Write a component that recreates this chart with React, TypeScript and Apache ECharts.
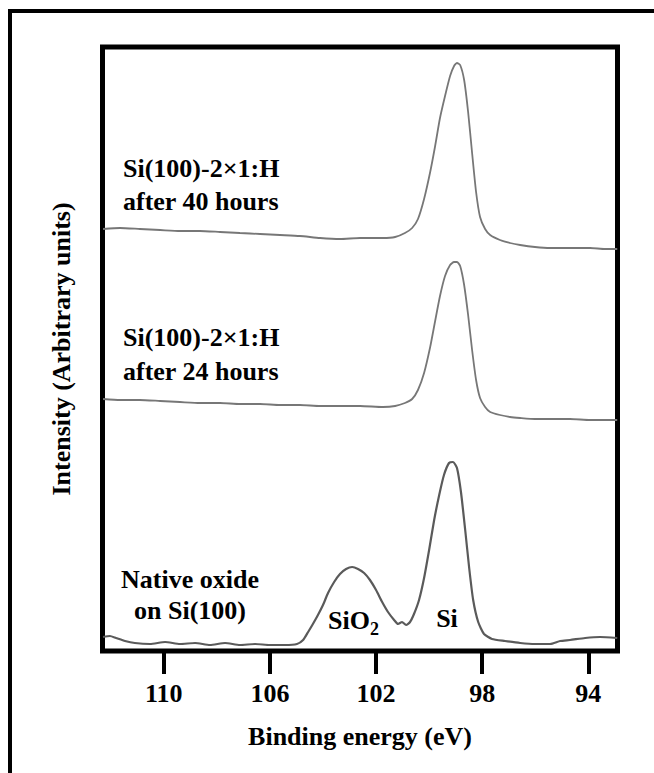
import React, { useEffect, useRef } from "react";
import * as echarts from "echarts";

// Binding energies (eV) and intensities (arbitrary units)
const energiesH = [112.29, 111.65, 110.90, 110.14, 109.39, 108.64, 107.88, 107.13, 106.37, 105.62,
  104.87, 104.11, 103.36, 102.60, 101.74, 101.28, 100.91, 100.64, 100.42, 100.19,
  99.96, 99.78, 99.59, 99.40, 99.21, 99.06, 98.95, 98.83, 98.68, 98.53,
  98.38, 98.23, 98.08, 97.89, 97.70, 97.33, 96.95, 96.57, 96.01, 95.44,
  94.69, 93.93, 93.37, 92.91];
const intensity40h = [422, 423, 422, 421, 420, 420, 419, 418, 417, 416,
  415, 413, 412, 413, 413, 414, 418, 423, 432, 452,
  479, 504, 533, 555, 575, 585, 588, 586, 571, 539,
  498, 459, 434, 422, 416, 411, 408, 406, 404, 403,
  403, 403, 402, 402];
const intensity24h = [252, 251, 251, 250, 249, 248, 248, 247, 247, 246,
  246, 245, 245, 245, 244, 245, 248, 252, 261, 278,
  304, 329, 355, 375, 386, 389, 389, 385, 366, 336,
  301, 271, 253, 244, 239, 236, 234, 233, 232, 232,
  232, 231, 231, 231];
const energiesOx = [112.29, 112.03, 111.80, 111.46, 111.09, 110.52, 109.95, 109.39, 108.82, 108.26,
  107.69, 107.13, 106.56, 106.00, 105.43, 104.98, 104.75, 104.56, 104.38, 104.19,
  104.00, 103.81, 103.58, 103.36, 103.13, 102.90, 102.68, 102.45, 102.23, 102.00,
  101.77, 101.55, 101.32, 101.17, 101.02, 100.87, 100.72, 100.57, 100.38, 100.19,
  100.00, 99.81, 99.62, 99.44, 99.25, 99.10, 98.95, 98.80, 98.64, 98.49,
  98.34, 98.15, 97.93, 97.63, 97.14, 96.57, 96.01, 95.44, 95.06, 94.69,
  94.12, 93.56, 92.91];
const intensityOx = [14, 15, 13, 10, 8, 7, 9, 7, 8, 6,
  8, 6, 7, 6, 6, 7, 11, 19, 27, 36,
  46, 58, 69, 77, 82, 84, 82, 78, 71, 61,
  49, 39, 31, 27, 29, 26, 29, 37, 51, 73,
  101, 131, 156, 176, 188, 189, 183, 159, 121, 83,
  51, 29, 17, 12, 10, 8, 7, 7, 10, 11,
  13, 14, 13];

const tickValues = [110, 106, 102, 98, 94];
const xTitle = "Binding energy (eV)";
const yTitle = "Intensity (Arbitrary units)";
const labels40 = ["Si(100)-2×1:H", "after 40 hours"];
const labels24 = ["Si(100)-2×1:H", "after 24 hours"];
const labelsOx = ["Native oxide", "on Si(100)"];

const FONT = "Liberation Serif";

export default function App() {
  const ref = useRef<HTMLDivElement>(null);
  useEffect(() => {
    if (!ref.current) return;
    const chart = echarts.init(ref.current, null, { renderer: "svg" });
    const pair = (xs: number[], ys: number[]) => xs.map((x, i) => [x, ys[i]]);
    const txt = (text: string, x: number, y: number, align: string = "left", size = 26) => ({
      type: "text",
      x,
      y,
      style: {
        text,
        fontFamily: FONT,
        fontWeight: "bold",
        fontSize: size,
        fill: "#000",
        align,
        verticalAlign: "middle",
      },
    });
    const lineStyle = (w: number, c: string) => ({ color: c, width: w });
    chart.setOption({
      animation: false,
      backgroundColor: "#fff",
      textStyle: { fontFamily: FONT },
      grid: {
        left: 102.5,
        right: 36.5,
        top: 47,
        bottom: 122,
        show: true,
        borderColor: "#000",
        borderWidth: 5,
        backgroundColor: "transparent",
      },
      xAxis: {
        type: "value",
        inverse: true,
        min: 92.9,
        max: 112.31,
        name: xTitle,
        nameLocation: "middle",
        nameGap: 72,
        nameTextStyle: { fontFamily: FONT, fontWeight: "bold", fontSize: 26, color: "#000" },
        axisLine: { show: false },
        splitLine: { show: false },
        axisTick: {
          show: true,
          length: 23,
          customValues: tickValues,
          lineStyle: { color: "#000", width: 4 },
        },
        axisLabel: {
          customValues: tickValues,
          margin: 29,
          fontFamily: FONT,
          fontWeight: "bold",
          fontSize: 26,
          color: "#000",
        },
      },
      yAxis: {
        type: "value",
        min: 0,
        max: 604,
        name: yTitle,
        nameLocation: "middle",
        nameGap: 28,
        nameTextStyle: { fontFamily: FONT, fontWeight: "bold", fontSize: 26, color: "#000" },
        axisLine: { show: false },
        axisTick: { show: false },
        axisLabel: { show: false },
        splitLine: { show: false },
      },
      series: [
        {
          type: "line",
          data: pair(energiesH, intensity40h),
          showSymbol: false,
          smooth: 0.2,
          lineStyle: lineStyle(1.8, "#777777"),
        },
        {
          type: "line",
          data: pair(energiesH, intensity24h),
          showSymbol: false,
          smooth: 0.2,
          lineStyle: lineStyle(1.8, "#777777"),
        },
        {
          type: "line",
          data: pair(energiesOx, intensityOx),
          showSymbol: false,
          smooth: 0.2,
          lineStyle: lineStyle(2.2, "#5a5a5a"),
        },
      ],
      graphic: [
        {
          type: "polyline",
          shape: { points: [[10, 773], [10, 11], [654, 11]] },
          style: { stroke: "#000", lineWidth: 4, fill: "none" },
        },
        txt(labels40[0], 123, 168),
        txt(labels40[1], 123, 201),
        txt(labels24[0], 123, 337),
        txt(labels24[1], 123, 371),
        txt(labelsOx[0], 190, 579, "center"),
        txt(labelsOx[1], 190, 610, "center"),
        txt("SiO", 328, 620),
        txt("2", 370, 629, "left", 18),
        txt("Si", 447, 618, "center"),
      ],
    });
    return () => chart.dispose();
  }, []);
  return (
    <div
      ref={ref}
      style={{ position: "fixed", left: 0, top: 0, width: 654, height: 773 }}
    />
  );
}
